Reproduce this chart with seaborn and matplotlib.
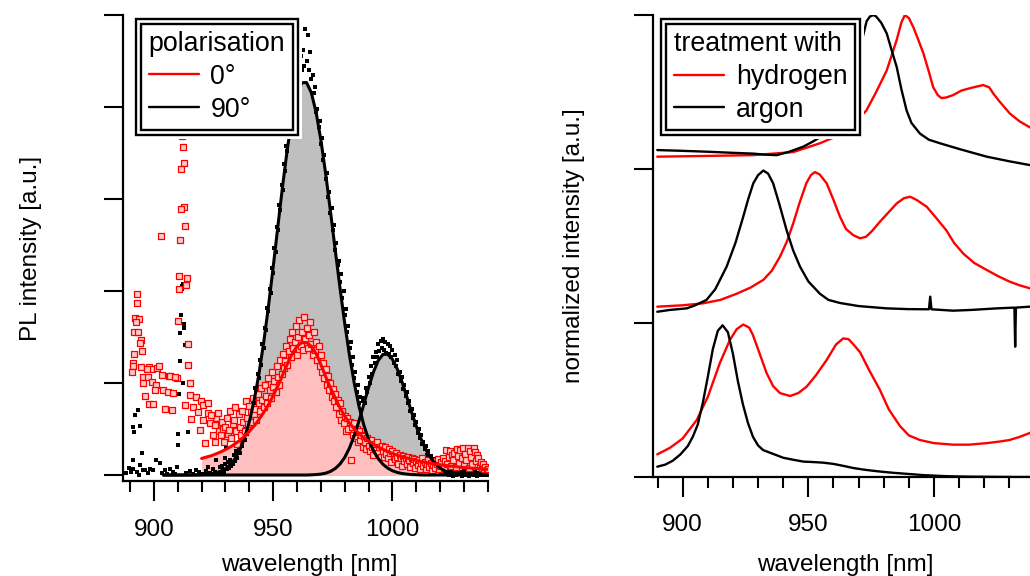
import numpy as np
import matplotlib
matplotlib.use("Agg")
import matplotlib.pyplot as plt
from matplotlib.lines import Line2D
from matplotlib.patches import Rectangle
from matplotlib.transforms import IdentityTransform
from matplotlib.ticker import MultipleLocator
import seaborn as sns

# ---------------- left panel: PL spectra at two polarisations ----------------
# 90 deg raw data (0.5 nm grid from 928 nm)
pol90_grid_start = 928.0
pol90_y = [
    0.03, 0.10, 0.05, 0.02, 0.12, 0.06, 0.14, 0.08, 0.16, 0.10,
    0.12, 0.22, 0.15, 0.26, 0.19, 0.30, 0.24, 0.36, 0.31, 0.42,
    0.38, 0.50, 0.45, 0.60, 0.55, 0.70, 0.66, 0.80, 0.78, 0.95,
    0.90, 1.10, 1.05, 1.25, 1.20, 1.42, 1.38, 1.60, 1.58, 1.82,
    1.78, 2.02, 1.98, 2.25, 2.20, 2.47, 2.42, 2.70, 2.66, 2.93,
    2.88, 3.15, 3.10, 3.38, 3.30, 3.58, 3.52, 3.78, 3.70, 3.98,
    3.90, 4.15, 4.05, 4.30, 4.20, 4.42, 4.28, 4.55, 4.40, 4.62,
    4.45, 4.85, 4.50, 4.78, 4.40, 4.60, 4.30, 4.35, 4.15, 4.22,
    3.95, 3.98, 3.78, 3.85, 3.60, 3.66, 3.42, 3.48, 3.22, 3.28,
    3.02, 3.08, 2.85, 2.90, 2.66, 2.72, 2.45, 2.52, 2.28, 2.33,
    2.10, 2.18, 1.92, 2.00, 1.74, 1.80, 1.55, 1.62, 1.38, 1.45,
    1.20, 1.28, 1.05, 1.12, 0.90, 0.98, 0.78, 0.85, 0.70, 0.80,
    0.84, 0.78, 0.95, 0.90, 1.06, 1.00, 1.18, 1.10, 1.28, 1.22,
    1.34, 1.28, 1.42, 1.35, 1.46, 1.38, 1.48, 1.36, 1.45, 1.33,
    1.42, 1.32, 1.40, 1.28, 1.36, 1.22, 1.30, 1.18, 1.25, 1.10,
    1.12, 1.02, 1.06, 0.94, 0.98, 0.86, 0.90, 0.78, 0.80, 0.70,
    0.72, 0.62, 0.65, 0.54, 0.58, 0.46, 0.50, 0.40, 0.43, 0.34,
    0.36, 0.28, 0.31, 0.22, 0.26, 0.18, 0.21, 0.14, 0.17, 0.10,
    0.14, 0.08, 0.12, 0.05, 0.09, 0.03, 0.07, 0.02, 0.06, 0.01,
    0.04, 0.00, 0.05, 0.01, 0.03, -0.01, 0.04, 0.00, 0.02, 0.05,
    0.01, 0.03, -0.01, 0.02, 0.04, 0.00, 0.02, 0.01, -0.01, 0.03,
    0.01, 0.02, 0.00, 0.03, 0.01, -0.01, 0.02, 0.00, 0.01, 0.02,
    0.00, 0.01, 0.02, 0.00, 0.01,
]
# 90 deg raw data below 930 nm (including the spike near 912 nm)
pol90_extra_x = [891.4, 892.1, 893.4, 891.6, 894.2, 891.1, 894.9, 894.2, 895.5, 891.4,
                 896.2, 899.7, 900.8, 902.5, 904.6, 906.7, 910.2, 910.2, 914.3, 910.6,
                 909.5, 915.0, 917.8, 922.0, 922.7, 924.8, 926.2, 927.6, 929.7, 930.4,
                 912.2, 911.8, 911.8, 911.3, 912.5, 912.5, 911.0, 913.1, 911.0, 912.0,
                 888.5, 889.5, 890.3, 892.8, 893.8, 897.5, 898.5, 903.5, 905.5, 907.8,
                 908.8, 913.5, 916.5, 919.0, 920.5, 923.5, 925.5, 927.0]
pol90_extra_y = [0.52, 0.65, 0.71, 0.47, 0.53, 0.16, 0.24, 0.11, 0.05, 0.06,
                 0.05, 0.05, 0.16, 0.13, 0.05, 0.07, 0.45, 0.33, 0.47, 0.88,
                 0.09, 0.04, 0.05, 0.04, 0.09, 0.07, 0.16, 0.09, 0.18, 0.29,
                 2.08, 2.05, 2.02, 1.74, 1.64, 1.60, 1.54, 1.41, 1.24, 1.00,
                 0.02, 0.08, 0.03, 0.03, 0.00, 0.02, 0.06, 0.02, 0.01, 0.03,
                 0.01, 0.02, 0.01, 0.03, 0.01, 0.02, 0.03, 0.01]

# 0 deg raw data (0.5 nm grid from 926 nm)
pol0_grid_start = 926.0
pol0_y = [
    0.62, 0.55, 0.67, 0.48, 0.43, 0.58, 0.50, 0.36, 0.52, 0.62,
    0.45, 0.49, 0.70, 0.40, 0.55, 0.60, 0.74, 0.48, 0.34, 0.66,
    0.52, 0.44, 0.70, 0.58, 0.48, 0.80, 0.62, 0.55, 0.75, 0.68,
    0.58, 0.84, 0.66, 0.72, 0.60, 0.88, 0.78, 0.70, 0.95, 0.82,
    0.74, 0.98, 0.86, 0.78, 1.05, 0.92, 0.84, 1.12, 0.96, 1.02,
    0.90, 1.18, 1.06, 0.98, 1.25, 1.10, 1.32, 1.16, 1.24, 1.40,
    1.20, 1.35, 1.48, 1.28, 1.55, 1.38, 1.45, 1.62, 1.30, 1.50,
    1.68, 1.40, 1.55, 1.36, 1.72, 1.48, 1.60, 1.38, 1.52, 1.66,
    1.42, 1.30, 1.55, 1.36, 1.45, 1.25, 1.40, 1.18, 1.30, 1.12,
    1.22, 1.05, 1.15, 0.98, 1.08, 0.92, 1.00, 0.85, 0.94, 0.80,
    0.88, 0.74, 0.82, 0.66, 0.78, 0.60, 0.70, 0.56, 0.64, 0.48,
    0.62, 0.50, 0.58, 0.16, 0.52, 0.44, 0.56, 0.40, 0.50, 0.36,
    0.48, 0.38, 0.44, 0.30, 0.42, 0.36, 0.28, 0.40, 0.32, 0.26,
    0.38, 0.30, 0.22, 0.34, 0.27, 0.36, 0.24, 0.30, 0.20, 0.32,
    0.26, 0.20, 0.30, 0.23, 0.18, 0.28, 0.24, 0.14, 0.26, 0.20,
    0.17, 0.24, 0.20, 0.12, 0.22, 0.18, 0.10, 0.21, 0.15, 0.19,
    0.12, 0.20, 0.16, 0.09, 0.18, 0.13, 0.17, 0.08, 0.15, 0.11,
    0.16, 0.07, 0.13, 0.18, 0.10, 0.14, 0.06, 0.12, 0.16, 0.09,
    0.13, 0.05, 0.11, 0.15, 0.08, 0.12, 0.17, 0.06, 0.10, 0.14,
    0.18, 0.08, 0.15, 0.27, 0.12, 0.20, 0.26, 0.10, 0.22, 0.16,
    0.24, 0.09, 0.28, 0.21, 0.13, 0.27, 0.18, 0.29, 0.11, 0.23,
    0.16, 0.29, 0.08, 0.26, 0.20, 0.12, 0.29, 0.25, 0.15, 0.22,
    0.18, 0.10, 0.14, 0.08, 0.12, 0.06, 0.09, 0.05, 0.07,
]
# 0 deg raw data below 926 nm (background hump and spike near 912 nm)
pol0_extra_x = [892.8, 893.0, 892.1, 893.7, 892.3, 891.8, 893.2, 894.4, 894.2, 894.9,
                891.6, 891.1, 891.1, 890.7, 894.7, 898.0, 899.3, 897.2, 901.1, 902.2,
                903.2, 906.4, 909.5, 895.3, 897.6, 895.5, 899.0, 900.8, 906.7, 908.8,
                915.0, 896.2, 898.0, 899.7, 900.4, 903.9, 906.0, 908.1, 904.6, 907.4,
                915.0, 917.8, 919.9, 913.0, 916.4, 920.6, 922.7, 918.5, 915.7, 920.6,
                922.7, 924.1, 919.2, 923.4, 925.5, 921.3, 925.5, 924.8,
                911.6, 912.0, 912.5, 911.4, 912.8, 911.2, 913.1, 902.9, 911.0, 910.6,
                913.7, 913.5, 910.4, 910.2, 914.1, 914.3]
pol0_extra_y = [1.97, 1.87, 1.71, 1.70, 1.66, 1.55, 1.55, 1.47, 1.43, 1.35,
                1.32, 1.22, 1.18, 1.12, 1.17, 1.17, 1.15, 1.15, 1.16, 1.18,
                1.09, 1.08, 1.05, 1.06, 1.06, 1.00, 1.01, 0.98, 1.08, 1.07,
                1.00, 0.86, 0.77, 0.77, 0.92, 0.92, 0.90, 0.89, 0.72, 0.71,
                0.87, 0.85, 0.80, 0.76, 0.74, 0.76, 0.78, 0.69, 0.61, 0.60,
                0.67, 0.65, 0.49, 0.56, 0.54, 0.35, 0.36, 0.43,
                3.68, 3.57, 3.39, 3.33, 2.91, 2.89, 2.71, 2.60, 2.55, 2.16,
                2.14, 2.07, 2.02, 1.67, 1.42, 1.20]

# fitted peaks (2 nm grid from 904 nm): two components for 90 deg
fit_grid_start = 904.0
fit90_peak1 = [0.0, 0.0, 0.0, 0.0, 0.0, 0.001, 0.001, 0.002,
               0.004, 0.008, 0.014, 0.024, 0.042, 0.070, 0.113, 0.178, 0.272, 0.403,
               0.579, 0.808, 1.093, 1.435, 1.828, 2.259, 2.709, 3.151, 3.556, 3.894,
               4.137, 4.264, 4.266, 4.155, 3.941, 3.640, 3.275, 2.869, 2.449, 2.035,
               1.647, 1.298, 0.997, 0.745, 0.543, 0.385, 0.266, 0.179, 0.117, 0.075,
               0.046, 0.028, 0.017, 0.010, 0.005, 0.003, 0.001,
               0.0, 0.0, 0.0, 0.0, 0.0, 0.0, 0.0, 0.0, 0.0, 0.0, 0.0, 0.0, 0.0, 0.0]
fit90_peak2 = [0.0, 0.0, 0.0, 0.0, 0.0, 0.0, 0.0, 0.0, 0.0, 0.0,
               0.0, 0.0, 0.0, 0.0, 0.0, 0.0, 0.0, 0.0, 0.0, 0.0,
               0.0, 0.0, 0.0, 0.0, 0.0, 0.0, 0.0, 0.0, 0.0, 0.0, 0.0,
               0.002, 0.005, 0.010, 0.020, 0.039, 0.070, 0.119, 0.192, 0.295, 0.428,
               0.589, 0.769, 0.952, 1.117, 1.243, 1.311, 1.313, 1.257, 1.153, 1.013,
               0.852, 0.686, 0.529, 0.391, 0.277, 0.188, 0.122, 0.076, 0.045, 0.026,
               0.014, 0.007, 0.004, 0.002, 0.001, 0.0, 0.0, 0.0]
# fitted peak for 0 deg (2 nm grid from 920 nm)
fit0_grid_start = 920.0
fit0_y = [0.18, 0.195, 0.209, 0.229, 0.251, 0.277, 0.305, 0.338, 0.377, 0.421,
          0.473, 0.533, 0.602, 0.68, 0.765, 0.86, 0.97, 1.09, 1.21, 1.32,
          1.40, 1.44, 1.44, 1.40, 1.32, 1.20, 1.07, 0.95, 0.84, 0.73,
          0.64, 0.565, 0.50, 0.45, 0.405, 0.37, 0.335, 0.305, 0.28, 0.255,
          0.235, 0.215, 0.20, 0.185, 0.17, 0.158, 0.147, 0.137, 0.128, 0.12,
          0.112, 0.105, 0.098, 0.092, 0.087, 0.082, 0.077, 0.073, 0.069, 0.065,
          0.062]

# ---------------- right panel: normalized spectra, stacked ----------------
offsets = [0, 1, 2]
h_bot_x = [889.9, 895, 900, 905.6, 910, 914.8, 918.8, 921.5, 924.1, 926.5,
           928, 930, 933.4, 936, 938.7, 942.7, 946, 949.3, 953, 957.3,
           961, 963.9, 966, 968, 970.6, 974, 978.5, 982, 986.5, 990,
           994.4, 1000, 1007.6, 1014, 1021, 1026, 1030, 1034, 1038, 1042, 1046]
h_bot_y = [.147, .19, .25, .37, .52, .74, .89, .96, .99, .97,
           .92, .83, .675, .59, .545, .526, .545, .586, .66, .76,
           .86, .90, .895, .86, .81, .70, .565, .44, .33, .27,
           .24, .22, .21, .21, .22, .23, .24, .26, .285, .32, .36]
a_bot_x = [889.9, 893, 896, 899, 902, 904, 906, 908, 910, 912,
           914, 915.9, 918, 920, 922, 924, 926, 928, 930, 932,
           936, 940, 944, 948, 952, 956, 960, 964, 968, 972,
           976, 980, 984, 988, 992, 996, 1000, 1004, 1008, 1016,
           1024, 1032, 1046]
a_bot_y = [.067, .08, .105, .145, .20, .26, .34, .48, .65, .83,
           .95, .985, .94, .80, .62, .47, .35, .26, .205, .175,
           .15, .125, .112, .10, .097, .093, .085, .072, .058, .048,
           .04, .033, .027, .022, .017, .012, .009, .006, .004, .002,
           .001, 0, 0]
h_mid_x = [889.9, 900, 908.2, 915, 921.5, 927, 932.1, 935.5, 938.7, 941.5,
           944, 946.5, 949.2, 951, 952.6, 954.5, 957.3, 960, 962.6, 965,
           967.9, 970.6, 973, 975.5, 978.5, 982, 985.2, 988, 990.5, 993,
           997.1, 1001, 1005, 1008, 1011.7, 1016, 1021, 1026, 1030.2, 1034,
           1038.2, 1046]
h_mid_y = [.106, .115, .128, .15, .19, .23, .28, .34, .43, .53,
           .647, .78, .907, .96, .98, .965, .907, .80, .69, .61,
           .57, .55, .56, .60, .658, .72, .777, .81, .82, .80,
           .755, .68, .60, .52, .45, .39, .344, .30, .268, .245,
           .225, .20]
a_mid_x = [889.9, 895, 901.6, 905, 909.5, 913, 917.5, 921, 924.1, 926,
           928.1, 930, 932.1, 934, 936, 938.5, 941.4, 944, 946.7, 950,
           954.6, 958, 962.6, 970, 981.2, 990, 998, 998.5, 999, 1007.6,
           1015, 1020, 1025, 1032, 1032.3, 1032.6, 1038, 1046]
a_mid_y = [.073, .085, .095, .115, .15, .22, .366, .52, .69, .80,
           .907, .96, .99, .97, .907, .77, .60, .47, .366, .27,
           .19, .15, .13, .11, .095, .09, .089, .171, .089, .08,
           .085, .09, .095, .10, -.154, .10, .106, .11]
h_top_x = [889.9, 910, 928, 944, 954.6, 963.8, 968, 973.1, 977, 981.2,
           985.2, 987, 988.4, 990, 991.8, 993.5, 995.8, 998, 999.7, 1001.5,
           1003, 1005, 1007.6, 1011, 1015.6, 1019.6, 1022, 1023.6, 1026, 1030.2,
           1034, 1038.2, 1042, 1046]
h_top_y = [.08, .085, .09, .11, .167, .23, .29, .38, .50, .64,
           .84, .95, 1.0, .98, .92, .85, .75, .63, .53, .48,
           .46, .465, .48, .51, .53, .545, .53, .49, .44, .36,
           .31, .27, .24, .21]
a_top_x = [889.9, 900, 910, 920, 928, 933, 937.4, 942, 948, 952,
           956, 960, 962, 964, 966, 968, 970, 972, 973.2, 974.5,
           975.9, 977, 979, 981.2, 983, 985.2, 987, 989.1, 991, 994.4,
           998, 1002.4, 1010, 1021, 1030, 1038, 1046]
a_top_y = [.123, .118, .112, .105, .10, .093, .09, .11, .145, .18,
           .22, .28, .33, .40, .49, .61, .75, .88, .96, .99,
           1.0, .99, .95, .88, .78, .66, .52, .38, .30, .23,
           .19, .167, .13, .08, .05, .026, .01]

hydrogen = [(h_bot_x, h_bot_y), (h_mid_x, h_mid_y), (h_top_x, h_top_y)]
argon = [(a_bot_x, a_bot_y), (a_mid_x, a_mid_y), (a_top_x, a_top_y)]

# ---------------- style ----------------
sns.set_style("ticks", rc={'axes.edgecolor': 'black', 'text.color': 'black',
                           'axes.labelcolor': 'black', 'xtick.color': 'black',
                           'ytick.color': 'black'})
plt.rcParams['font.family'] = ['Liberation Sans', 'DejaVu Sans']
FS = 17.5
LEG_FS = 19.3
RED = '#ff0000'


def style_axis(ax, pad):
    sns.despine(ax=ax)
    for s in ('left', 'bottom'):
        ax.spines[s].set_linewidth(1.6)
    ax.xaxis.set_major_locator(MultipleLocator(50))
    ax.xaxis.set_minor_locator(MultipleLocator(10))
    ax.tick_params(axis='x', which='major', direction='out', length=14.4, width=1.5,
                   pad=pad, labelsize=FS)
    ax.tick_params(axis='x', which='minor', direction='out', length=8, width=1.5)
    ax.tick_params(axis='y', which='major', direction='out', length=13.7, width=1.5,
                   labelleft=False)
    ax.tick_params(axis='y', which='minor', left=False)


def double_frame(ax, leg, gap=5.0, margin=4.0):
    """Draws the second (outer) border and a white margin round a legend."""
    ax.figure.canvas.draw()
    bb = leg.get_frame().get_window_extent()
    tr = IdentityTransform()
    w = gap + margin
    ax.add_artist(Rectangle((bb.x0 - w, bb.y0 - w), bb.width + 2 * w, bb.height + 2 * w,
                            transform=tr, facecolor='white', edgecolor='none',
                            zorder=4.8, clip_on=False))
    ax.add_artist(Rectangle((bb.x0 - gap, bb.y0 - gap), bb.width + 2 * gap,
                            bb.height + 2 * gap, transform=tr, facecolor='none',
                            edgecolor='black', linewidth=1.7, zorder=4.9, clip_on=False))


def make_legend(ax, labels, colors, title, anchor):
    handles = [Line2D([], [], color=c, lw=1.7) for c in colors]
    leg = ax.legend(handles, labels, title=title, loc='upper left', bbox_to_anchor=anchor,
                    frameon=True, fancybox=False, framealpha=1, edgecolor='black',
                    fontsize=LEG_FS, title_fontsize=LEG_FS, borderpad=0.28,
                    labelspacing=0.25, handlelength=1.87, handletextpad=0.44,
                    borderaxespad=0, alignment='left')
    leg.get_frame().set_linewidth(1.7)
    leg.set_zorder(5)
    return leg


fig = plt.figure(figsize=(10.3, 5.76), dpi=100)
ax1 = fig.add_axes([123 / 1030, 95 / 576, 365 / 1030, 466 / 576])
ax2 = fig.add_axes([653 / 1030, 99 / 576, 396.6 / 1030, 462 / 576])

# ---------------- left panel ----------------
fit_x = fit_grid_start + 2 * np.arange(len(fit90_peak1))
fit0_x = fit0_grid_start + 2 * np.arange(len(fit0_y))
pol90_x = pol90_grid_start + 0.5 * np.arange(len(pol90_y))
pol0_x = pol0_grid_start + 0.5 * np.arange(len(pol0_y))

ax1.fill_between(fit_x, 0, fit90_peak1, color='#bfbfbf', lw=0, zorder=1)
ax1.fill_between(fit_x, 0, fit90_peak2, color='#bfbfbf', lw=0, zorder=1)
ax1.fill_between(fit0_x, 0, fit0_y, color='#ffbfbf', lw=0, zorder=1.5)

sns.scatterplot(x=np.concatenate([pol90_x, pol90_extra_x]),
                y=np.concatenate([pol90_y, pol90_extra_y]),
                marker='s', s=6, color='black', linewidth=0, ax=ax1, zorder=3,
                legend=False)
sns.scatterplot(x=np.concatenate([pol0_x, pol0_extra_x]),
                y=np.concatenate([pol0_y, pol0_extra_y]),
                marker='s', s=13, color='#ffc8c8', edgecolor=RED, linewidth=0.9,
                ax=ax1, zorder=3.5, legend=False)

for comp in (fit90_peak1, fit90_peak2):
    sns.lineplot(x=fit_x, y=comp, color='black', linewidth=2.2, ax=ax1,
                 estimator=None, sort=False, legend=False, zorder=4)
sns.lineplot(x=fit0_x, y=fit0_y, color=RED, linewidth=2.2, ax=ax1,
             estimator=None, sort=False, legend=False, zorder=4.2)

ax1.set_xlim(887.05, 1040.05)
ax1.set_ylim(-0.065, 5.0)
ax1.set_yticks([0, 1, 2, 3, 4, 5])
style_axis(ax1, pad=13)
ax1.set_xlabel('wavelength [nm]', fontsize=FS)
ax1.set_ylabel('PL intensity [a.u.]', fontsize=FS)
ax1.xaxis.set_label_coords(0.51, -0.157)
ax1.yaxis.set_label_coords(-0.222, 0.5)

leg1 = make_legend(ax1, ['0°', '90°'], [RED, 'black'], 'polarisation', (0.0493, 0.9815))

# ---------------- right panel ----------------
for off, (hx, hy), (axx, ay) in zip(offsets, hydrogen, argon):
    sns.lineplot(x=hx, y=np.array(hy) + off, color=RED, linewidth=1.7, ax=ax2,
                 estimator=None, sort=False, legend=False, zorder=2)
    sns.lineplot(x=axx, y=np.array(ay) + off, color='black', linewidth=1.7, ax=ax2,
                 estimator=None, sort=False, legend=False, zorder=2.5)

ax2.set_xlim(888.2, 1046.0)
ax2.set_ylim(0, 3)
ax2.set_yticks([0, 1, 2, 3])
style_axis(ax2, pad=12.5)
ax2.set_xlabel('wavelength [nm]', fontsize=FS)
ax2.set_ylabel('normalized intensity [a.u.]', fontsize=FS)
ax2.xaxis.set_label_coords(0.486, -0.167)
ax2.yaxis.set_label_coords(-0.171, 0.5)

leg2 = make_legend(ax2, ['hydrogen', 'argon'], [RED, 'black'], 'treatment with',
                   (0.0335, 0.981))

double_frame(ax1, leg1)
double_frame(ax2, leg2)

fig.savefig('out.png', dpi=100)
